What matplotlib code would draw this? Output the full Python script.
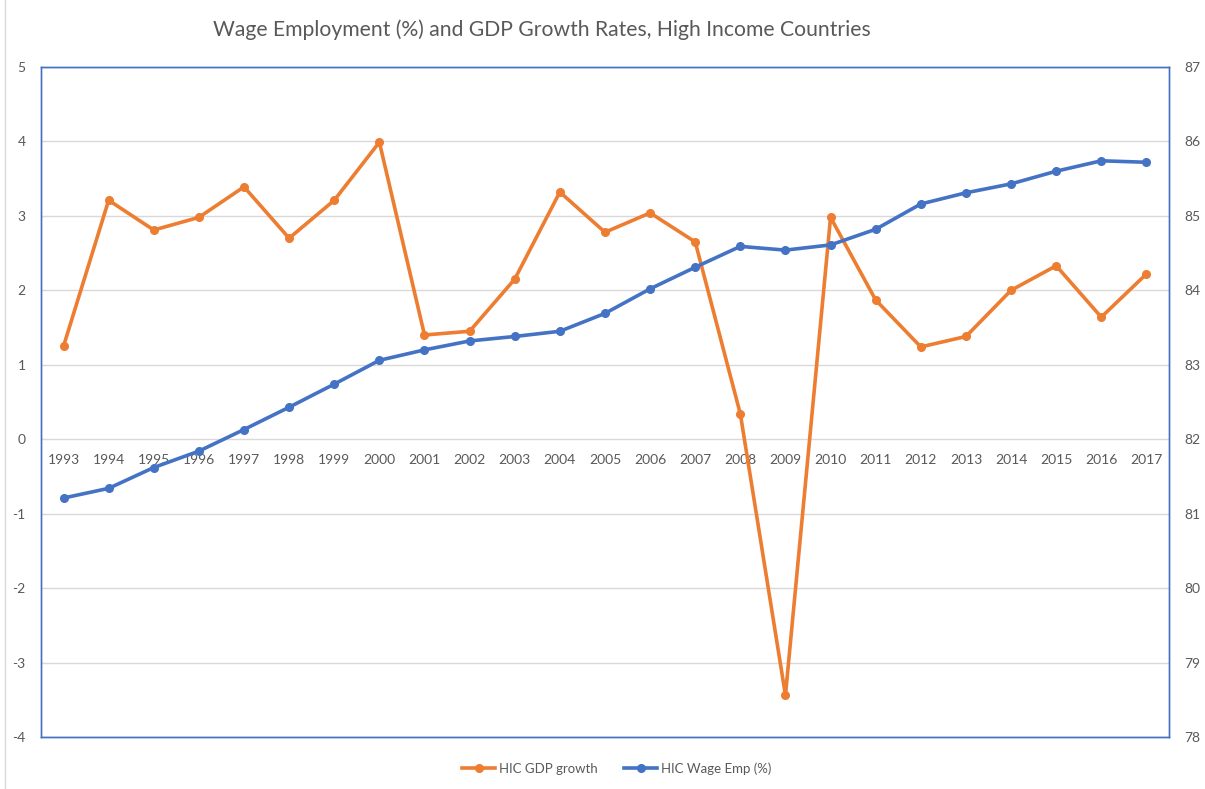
import matplotlib.pyplot as plt
from matplotlib.lines import Line2D

years = [str(y) for y in range(1993, 2018)]
gdp_growth = [1.25, 3.21, 2.81, 2.98, 3.39, 2.70, 3.21, 3.99, 1.40, 1.45,
              2.15, 3.32, 2.78, 3.04, 2.65, 0.34, -3.44, 2.98, 1.87, 1.24,
              1.38, 2.00, 2.33, 1.64, 2.22]
wage_emp = [81.21, 81.34, 81.62, 81.84, 82.13, 82.43, 82.74, 83.06, 83.20, 83.32,
            83.38, 83.45, 83.69, 84.02, 84.31, 84.59, 84.54, 84.61, 84.82, 85.16,
            85.31, 85.43, 85.60, 85.74, 85.72]

ORANGE = '#ED7D31'
BLUE = '#4472C4'
TEXT = '#595959'
FONT = 'Lato'

plt.rcParams['font.family'] = [FONT, 'DejaVu Sans']
plt.rcParams['axes.unicode_minus'] = False

fig = plt.figure(figsize=(12.05, 7.89), dpi=100)
ax = fig.add_axes([0.034, 0.0659, 0.9361, 0.8492])
ax2 = ax.twinx()

x = list(range(len(years)))
l1, = ax.plot(x, gdp_growth, color=ORANGE, lw=2.6, marker='o', ms=5.5,
              label='HIC GDP growth', zorder=3)
l2, = ax2.plot(x, wage_emp, color=BLUE, lw=2.6, marker='o', ms=5.5,
               label='HIC Wage Emp (%)', zorder=3)

ax.set_xlim(-0.5, len(years) - 0.5)
ax.set_ylim(-4, 5)
ax2.set_ylim(78, 87)
ax.set_yticks(range(-4, 6))
ax2.set_yticks(range(78, 88))

ax.grid(axis='y', color='#D9D9D9', lw=1)
ax.set_axisbelow(True)
ax.set_xticks([])

# category labels sit on the zero line
sec = ax.secondary_xaxis((0 - (-4)) / (5 - (-4)))
sec.set_xticks(x)
sec.set_xticklabels(years)
sec.spines['bottom'].set_visible(False)
sec.tick_params(length=0, pad=11, labelsize=10, labelcolor=TEXT)

ax.tick_params(axis='y', length=0, pad=11, labelsize=10, labelcolor=TEXT)
ax2.tick_params(axis='y', length=0, pad=11, labelsize=10, labelcolor=TEXT)

for a in (ax, ax2):
    for s in a.spines.values():
        s.set_color(BLUE)
        s.set_linewidth(1)

fig.suptitle('Wage Employment (%) and GDP Growth Rates, High Income Countries',
             x=0.45, y=0.975, fontsize=15.2, color=TEXT)

fig.legend(handles=[l1, l2], loc='center', bbox_to_anchor=(0.512, 0.026),
           ncol=2, frameon=False, fontsize=9.5, labelcolor=TEXT,
           handlelength=2.5, handletextpad=0.3, columnspacing=2.0)

fig.add_artist(Line2D([5 / 1205, 5 / 1205], [0, 1], color='#D9D9D9', lw=1,
                      transform=fig.transFigure))

fig.savefig('out.png', dpi=100)
